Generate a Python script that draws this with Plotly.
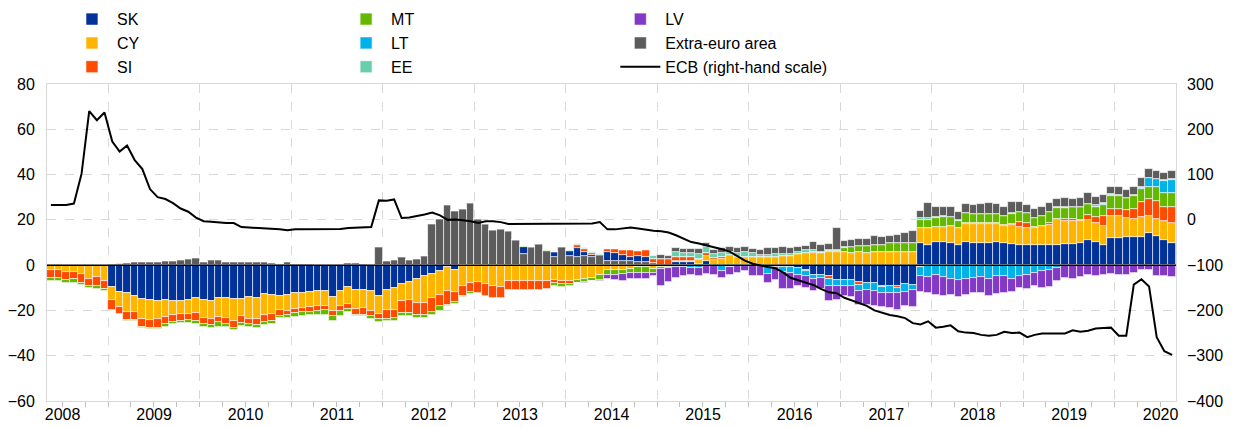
import pandas as pd
import plotly.graph_objects as go

# Monthly observations May 2008 - Aug 2020 (EUR bn; ECB on right-hand scale)
first_month = "2008-05-01"
n_months = 148

SK = [0,0,0,0,0,0,0,0,
      -9.7,-11.8,-12.4,-13.5,-14.9,-15.6,-15.9,-15.2,-16.0,-15.8,-15.3,-14.6,
      -15.2,-15.7,-14.6,-14.6,-14.8,-15.0,-14.2,-14.4,-12.6,-13.1,-13.5,-13.1,
      -12.1,-12.4,-11.8,-11.2,-11.2,-14.1,-11.2,-9.7,-10.9,-10.9,-11.6,-13.8,
      -10.9,-10.1,-8.2,-7.6,-6.2,-5.0,-4.0,-2.5,-0.6,-2.0,0,0,
      0,0,0,0,0,0,2.9,0,0,0,2.2,0,
      2.2,3.7,1.9,0.5,0,3.8,3.4,2.6,1.9,2.9,2.5,0,
      0,0,1.4,1.5,1.2,0.6,2.0,0,0,0,0,0,
      0,0,-0.5,-0.5,-1.0,-0.9,-1.3,-2.1,-4.3,-4.3,-4.7,-6.5,
      -6.5,-6.5,-7.6,-7.9,-7.9,-9.1,-9.4,-9.1,-8.2,-8.7,9.7,8.7,
      10.1,10.4,9.7,8.7,10.4,10.0,10.0,9.7,10.4,9.7,9.3,9.0,
      9.0,9.0,9.0,9.0,9.0,9.4,9.3,9.7,11.2,10.4,9.0,12.0,
      12.2,12.4,12.4,12.4,14.4,12.9,10.9,10.0]

CY = [-2.3,-2.1,-2.9,-2.9,-3.8,-6.0,-5.4,-6.8,
      -5.9,-6.8,-8.5,-7.4,-8.7,-8.5,-7.9,-7.5,-5.8,-5.6,-6.2,-6.6,
      -8.2,-8.1,-8.5,-8.8,-9.8,-7.6,-9.4,-9.4,-9.5,-8.4,-6.2,-7.0,
      -7.4,-6.6,-6.8,-7.0,-6.8,-6.3,-7.0,-7.4,-8.5,-8.1,-8.8,-7.6,
      -8.8,-9.6,-7.8,-7.9,-10.5,-11.8,-10.6,-10.6,-11.0,-10.0,-9.1,-7.9,
      -7.6,-8.2,-9.4,-9.7,-7.2,-7.2,-6.8,-6.8,-6.8,-7.2,-6.5,-7.2,
      -7.0,-6.5,-6.2,-5.7,-4.3,-2.1,-2.1,-2.0,-1.8,-1.0,-1.0,-1.5,
      -1.0,-0.8,0.5,0.3,0.5,1.5,2.1,2.4,2.6,4.5,3.8,3.8,
      3.8,3.5,3.5,3.8,4.1,4.1,5.0,5.3,5.3,5.3,5.6,5.6,
      5.6,5.3,5.6,5.3,5.6,5.6,5.6,6.0,6.0,6.0,6.5,7.5,
      6.9,6.6,7.6,7.6,7.8,8.2,8.2,8.5,7.8,7.6,8.3,8.0,
      7.5,7.5,8.1,8.8,11.3,10.3,10.0,9.6,8.8,8.1,8.4,9.9,
      9.6,8.4,7.9,8.8,7.4,7.4,8.4,8.8]

SI = [-3.2,-3.4,-3.5,-3.2,-4.1,-3.4,-3.7,-3.8,
      -4.4,-3.0,-3.2,-3.2,-3.5,-3.8,-4.0,-3.2,-3.3,-3.2,-2.9,-3.5,
      -2.6,-2.7,-2.0,-2.5,-3.2,-3.1,-2.6,-2.6,-2.9,-3.0,-2.6,-2.0,
      -1.8,-1.8,-1.9,-2.2,-2.0,-1.9,-2.2,-2.4,-2.5,-2.9,-2.2,-2.6,
      -4.1,-3.7,-5.1,-5.6,-5.4,-5.1,-5.9,-5.1,-5.9,-4.4,-4.4,-4.1,
      -4.7,-5.6,-4.9,-4.9,-3.7,-3.7,-4.1,-4.1,-4.1,-3.4,-1.5,-1.2,
      -1.4,1.2,1.0,1.0,0,1.5,1.9,2.2,2.9,2.1,3.1,1.5,
      2.8,2.6,1.5,1.6,1.7,0.8,1.2,0.7,1.2,0,0,0,
      0,0,0,0,0,0,0,-0.4,0.5,0,-1.2,0,
      0,0,-1.0,0,0,-0.6,0,-1.0,0,0,-0.9,0,
      0,0,0,0,0.4,0.3,0.3,0.3,0.3,0.6,0.6,2.2,
      2.0,0.5,0,0.7,0,0.6,1.0,0.7,2.2,2.9,4.1,2.9,
      2.9,3.7,4.4,6.9,7.4,8.2,6.6,7.1]

MT = [-1.4,-1.4,-1.5,-1.8,-1.0,-0.9,-1.3,-0.9,
      0.5,0.6,-0.6,-0.7,-0.7,-0.4,-0.4,-1.2,-0.7,-0.8,-1.0,-1.4,
      -1.2,-1.4,-2.0,-1.3,-1.0,-1.3,-1.2,-1.3,-1.5,-1.5,-1.2,-1.4,
      -1.4,-1.5,-1.4,-1.4,-1.8,-2.5,-2.2,-1.0,-0.7,-0.7,-1.2,-1.0,
      -1.0,-1.2,-1.5,-1.2,-1.3,-1.5,-1.5,-2.2,-0.7,-0.7,-0.7,-0.6,
      0,0,0,0,0,0,0.7,0,0,0.4,-1.0,-1.2,
      -1.0,-1.2,-1.2,-1.2,-2.3,-2.2,-2.1,-2.1,-1.5,-2.5,-2.5,-1.9,
      -0.8,-0.5,0,0,0,0,0,0,0,0,0,0,
      0,0,0,0,0,0,0,0,0,0,0.5,0.5,
      1.9,2.6,2.9,3.2,3.4,3.4,4.1,3.7,4.0,4.0,3.8,3.8,
      4.0,4.4,3.8,3.4,4.3,4.0,4.0,4.0,4.3,4.0,4.4,4.2,
      4.4,4.0,4.4,5.1,4.9,4.9,5.6,5.9,4.9,4.4,5.0,5.7,
      5.9,5.1,5.9,5.4,5.3,5.9,5.9,5.9]

LT = [0]*80 + [
      0,0,-1.0,-0.7,-1.2,-1.3,-0.5,-0.4,-2.6,-1.0,-0.5,-0.4,
      -0.5,-0.5,-3.5,-0.5,-2.0,-2.6,-2.9,-2.2,-1.9,-1.5,-3.2,-2.9,
      -2.9,-2.6,-2.6,-2.9,-3.4,-2.4,-2.9,-2.2,-3.8,-2.2,-4.1,-5.3,
      -4.3,-5.3,-6.2,-6.5,-6.2,-5.7,-5.3,-6.2,-5.0,-4.7,-6.2,-5.0,
      -4.3,-3.5,-2.8,-2.1,-1.3,0,0,0,0,0,0.6,0.6,
      0.4,0,0.3,0.7,3.8,3.5,5.3,5.9]

EE = [0]*68 + [
      0.5,0.5,0.5,0.5,0.5,0,0,0,0,0,0,1.5,
      0,0,2.2,1.9,1.9,2.2,2.6,1.8,1.5,1.5,1.5,1.8,
      1.5,1.0,1.0,1.2,1.0,0.7,1.0,1.2,0.7,0.7,0.5,0.5,
      0.3,0.3,0,0,0,0,0,0,0,0,0.7,0.7,
      0.4,0.3,0.3,0.3,0.2,0,0,0,0,0,0.5,0,
      0,0,0,0,0.7,0.7,0,0,0,0.7,0.3,0.3,
      0,0,0,0.3,0.3,0.3,0.3,0.3]

LV = [0]*68 + [
      0,-0.3,-0.3,-0.3,-0.3,-2.0,-2.5,-2.8,-2.8,-2.8,-2.8,-1.3,
      -7.2,-6.2,-4.6,-4.0,-3.3,-3.3,-3.5,-4.0,-3.2,-3.2,-3.0,-2.0,
      -4.2,-4.2,-4.1,-5.6,-7.4,-7.2,-4.9,-5.4,-5.4,-4.9,-6.6,-5.9,
      -4.4,-5.0,-6.2,-6.6,-6.9,-6.2,-6.6,-7.4,-6.2,-7.4,-6.8,-7.1,
      -8.8,-8.2,-6.9,-7.4,-7.2,-6.6,-7.1,-7.6,-7.6,-7.6,-5.5,-5.0,
      -6.3,-5.9,-7.5,-7.4,-5.9,-5.7,-5.9,-5.3,-4.3,-5.0,-4.3,-3.8,
      -4.3,-4.3,-3.5,-2.1,-2.0,-4.7,-5.0,-5.3]

EXTRA = [0.3,0.4,0.2,0.2,0.2,0.2,0.2,0.2,
      0.2,0.3,0.9,1.2,1.5,1.6,1.6,1.8,1.9,2.4,2.6,3.2,
      1.6,2.2,2.4,1.5,1.5,1.5,1.3,1.3,1.3,1.0,0.6,1.3,
      0.4,0.3,0.3,0.2,0.2,0.1,0.1,1.0,1.0,0.3,0.1,7.9,
      1.9,2.4,3.5,2.1,2.6,4.1,18.2,20.3,26.6,23.7,24.9,27.4,
      20.3,18.2,15.6,15.9,15.3,11.2,4.9,7.9,9.4,6.3,3.8,7.9,
      4.1,3.8,4.1,3.8,4.3,1.9,1.9,1.9,1.9,1.3,1.3,1.0,
      1.8,1.5,1.9,1.9,1.9,1.9,2.0,1.9,2.2,1.9,2.2,2.4,
      1.8,2.2,2.9,2.5,2.9,2.6,2.2,2.0,3.7,2.9,2.9,9.9,
      2.9,2.9,3.2,2.9,3.7,3.4,3.2,3.7,4.1,4.9,3.3,6.9,
      4.4,4.2,4.4,3.6,4.1,4.0,4.4,5.1,4.1,3.7,4.7,4.4,
      3.5,4.0,4.1,3.7,3.2,3.7,3.5,3.7,4.7,3.4,3.5,3.2,
      3.7,3.7,3.7,3.8,3.8,3.4,3.5,3.8]

# ECB (right-hand scale), one value per month, one row per calendar year
ECB = [33,33,33,36,102,240,220,237,
       173,151,164,132,112,68,50,46,37,25,18,5,
       -3,-4,-6,-7,-7,-16,-17,-18,-18,-19,-21,-23,
       -21,-21,-21,-21,-21,-21,-20,-18,-17,-17,-16,43,
       42,45,4,5,8,12,16,10,0,1,-1,-3,
       -7,-3,-3,-5,-9,-9,-9,-9,-9,-9,-9,-9,
       -9,-9,-9,-8,-5,-21,-21,-19,-17,-19,-22,-24,
       -25,-28,-34,-42,-49,-52,-56,-60,-65,-70,-80,-90,
       -97,-101,-104,-107,-116,-128,-134,-139,-144,-153,-160,-162,
       -172,-178,-184,-190,-200,-205,-210,-213,-217,-228,-231,-224,
       -238,-236,-233,-246,-249,-250,-254,-256,-254,-247,-250,-249,
       -259,-254,-251,-251,-251,-251,-244,-247,-245,-240,-239,-238,
       -256,-256,-143,-131,-147,-259,-290,-298]

series_names = ["SK", "CY", "SI", "MT", "LT", "EE", "LV"]
series_values = [SK, CY, SI, MT, LT, EE, LV]
series_colors = ["#003299", "#FFB400", "#FF4B00", "#65B800", "#00B1EA", "#68CFAE", "#8139C6"]
extra_color = "#5C5C5C"

legend_of = {"SK": "legend", "CY": "legend", "SI": "legend",
             "MT": "legend2", "LT": "legend2", "EE": "legend2",
             "LV": "legend3"}
rank_of = {"SK": 1, "CY": 2, "SI": 3, "MT": 1, "LT": 2, "EE": 3, "LV": 1}

starts = pd.date_range(first_month, periods=n_months, freq="MS")
ends = starts + pd.offsets.MonthBegin(1)
mids = starts + (ends - starts) / 2
widths = [(e - s).total_seconds() * 1000 for s, e in zip(starts, ends)]

split = pd.Timestamp("2015-01-01")
extra_early = [v if d < split else None for d, v in zip(starts, EXTRA)]
extra_late = [v if d >= split else None for d, v in zip(starts, EXTRA)]

bar_line = dict(color="rgba(255,255,255,0.75)", width=0.8)

fig = go.Figure()
fig.add_trace(go.Bar(x=mids, y=extra_early, width=widths, name="Extra-euro area",
                     marker=dict(color=extra_color, line=bar_line),
                     legendgroup="extra", showlegend=False, hoverinfo="x+y"))
for name, vals, col in zip(series_names, series_values, series_colors):
    fig.add_trace(go.Bar(x=mids, y=vals, width=widths, name=name,
                         marker=dict(color=col, line=bar_line),
                         legend=legend_of[name], legendrank=rank_of[name]))
fig.add_trace(go.Bar(x=mids, y=extra_late, width=widths, name="Extra-euro area",
                     marker=dict(color=extra_color, line=bar_line),
                     legendgroup="extra", legend="legend3", legendrank=2))
fig.add_trace(go.Scatter(x=mids, y=ECB, name="ECB (right-hand scale)", yaxis="y2",
                         mode="lines", line=dict(color="black", width=2),
                         legend="legend3", legendrank=3))

font_family = "Liberation Sans, Arial, sans-serif"
grid_col = "#d9d9d9"

legend_common = dict(orientation="v", yanchor="top", y=1.258, xanchor="left",
                     bgcolor="rgba(0,0,0,0)", borderwidth=0,
                     font=dict(size=16, family=font_family, color="black"),
                     traceorder="normal", itemwidth=40, tracegroupgap=0)

fig.update_layout(
    width=1233, height=427,
    margin=dict(l=47, r=57, t=84, b=26, autoexpand=False),
    paper_bgcolor="white", plot_bgcolor="white",
    barmode="relative", bargap=0,
    font=dict(family=font_family, size=16, color="black"),
    legend=dict(legend_common, x=0.0177),
    legend2=dict(legend_common, x=0.2605),
    legend3=dict(legend_common, x=0.5034),
    xaxis=dict(type="date", range=["2008-05-01", "2020-09-01"],
               tick0="2008-01-01", dtick="M12", ticklabelmode="period",
               tickformat="%Y", showgrid=True, gridcolor=grid_col, griddash="dash",
               gridwidth=1, ticks="outside", ticklen=5, tickcolor="#bfbfbf",
               minor=dict(dtick="M3", ticks="outside", ticklen=5, tickcolor="#bfbfbf",
                          showgrid=False),
               showline=True, linecolor=grid_col, linewidth=1, mirror=True,
               ticklabelstandoff=-6,
               tickfont=dict(size=16), automargin=False),
    yaxis=dict(range=[-60, 80], dtick=20, showgrid=True, gridcolor=grid_col,
               griddash="dash", zeroline=False, showline=True, linecolor=grid_col,
               linewidth=1, mirror=True, ticks="", ticklabelstandoff=8,
               tickfont=dict(size=16), automargin=False),
    yaxis2=dict(range=[-400, 300], dtick=100, overlaying="y", side="right",
                showgrid=False, zeroline=False, showline=False, ticks="",
                ticklabelstandoff=10, tickfont=dict(size=16), automargin=False),
    shapes=[dict(type="line", xref="paper", yref="y", x0=0, x1=1, y0=0, y1=0,
                 line=dict(color="black", width=1.5), layer="above")],
)

fig.write_html("out.html", config={"displayModeBar": False},
               post_script="document.body.style.margin='0';document.body.style.padding='0';"
                           "document.documentElement.style.overflow='hidden';")
